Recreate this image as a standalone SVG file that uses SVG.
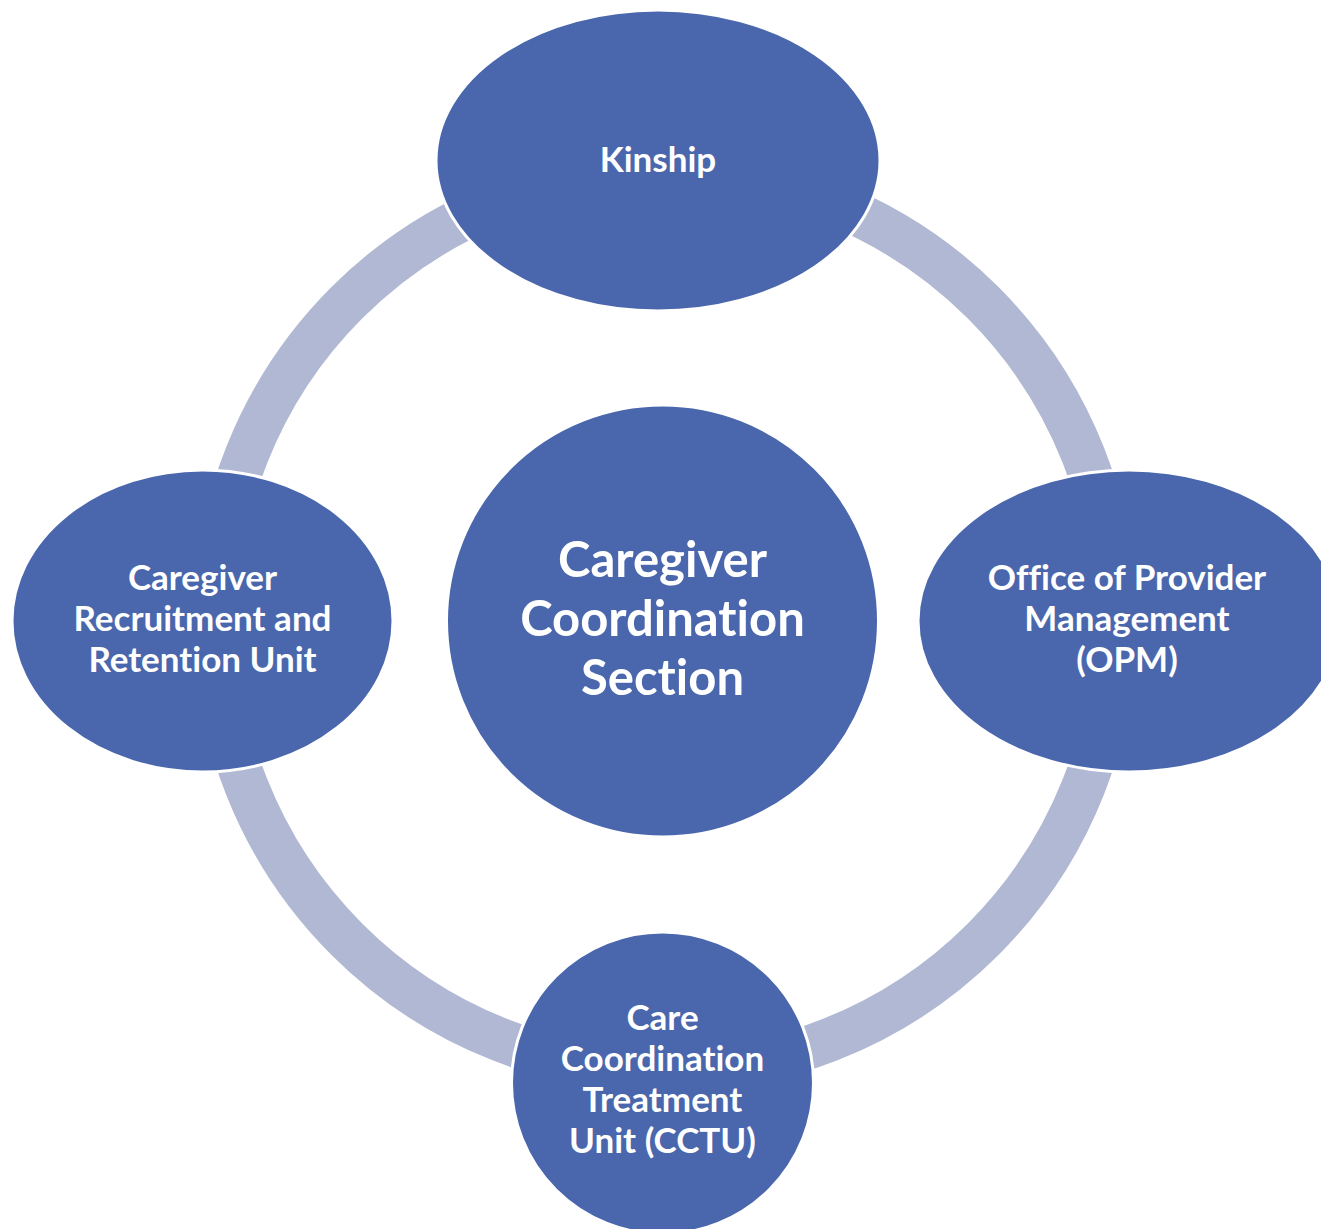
<svg xmlns="http://www.w3.org/2000/svg" width="1321" height="1229" viewBox="0 0 1321 1229">
<style>
.ring{fill:none;stroke:#B0B8D3;stroke-width:44}
.node{fill:#4A67AD;stroke:#FFFFFF;stroke-width:3}
.lbl{font-family:Lato,"Open Sans","Liberation Sans",sans-serif;font-weight:bold;fill:#FFFFFF;text-anchor:middle;font-size:35px;font-variant-ligatures:none;font-feature-settings:"liga" 0,"dlig" 0}
.big{font-size:49px}
</style>
<rect width="1321" height="1229" fill="#FFFFFF"/>
<g id="connectors">
<path class="ring" d="M665,171 A450,450 0 0 0 215,621"/>
<path class="ring" d="M215,621 A450,450 0 0 0 665,1071"/>
<path class="ring" d="M665,1071 A450,450 0 0 0 1115,621"/>
<path class="ring" d="M1115,621 A450,450 0 0 0 665,171"/>
</g>
<g id="center">
<circle class="node" cx="662.5" cy="621" r="216"/>
<text class="lbl big" x="662.5" y="577">Caregiver</text>
<text class="lbl big" x="662.5" y="636">Coordination</text>
<text class="lbl big" x="662.5" y="695">Section</text>
</g>
<g id="kinship">
<ellipse class="node" cx="658" cy="160.5" rx="222" ry="150.5"/>
<text class="lbl" x="658" y="172">Kinship</text>
</g>
<g id="recruitment">
<ellipse class="node" cx="202.5" cy="621" rx="190.5" ry="151"/>
<text class="lbl" x="202.5" y="590">Caregiver</text>
<text class="lbl" x="202.5" y="631">Recruitment and</text>
<text class="lbl" x="202.5" y="672">Retention Unit</text>
</g>
<g id="opm">
<ellipse class="node" cx="1129" cy="621" rx="211" ry="151"/>
<text class="lbl" x="1127" y="590">Office of Provider</text>
<text class="lbl" x="1127" y="631">Management</text>
<text class="lbl" x="1127" y="672">(OPM)</text>
</g>
<g id="cctu">
<circle class="node" cx="662.5" cy="1083" r="151"/>
<text class="lbl" x="662.5" y="1030">Care</text>
<text class="lbl" x="662.5" y="1071">Coordination</text>
<text class="lbl" x="662.5" y="1112">Treatment</text>
<text class="lbl" x="662.5" y="1153">Unit (CCTU)</text>
</g>
</svg>
